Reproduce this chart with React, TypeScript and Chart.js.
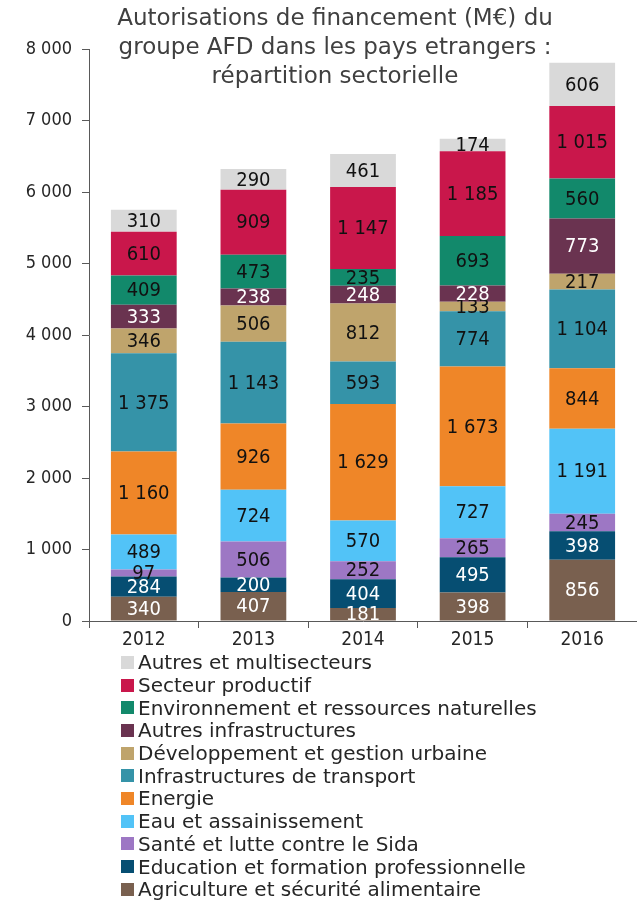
import React, { useEffect, useRef } from "react";
import { Chart, registerables } from "chart.js";

Chart.register(...registerables);

const years = ["2012", "2013", "2014", "2015", "2016"];

const agriculture = [340, 407, 181, 398, 856];
const education = [284, 200, 404, 495, 398];
const sante = [97, 506, 252, 265, 245];
const eau = [489, 724, 570, 727, 1191];
const energie = [1160, 926, 1629, 1673, 844];
const transport = [1375, 1143, 593, 774, 1104];
const urbain = [346, 506, 812, 133, 217];
const autresInfra = [333, 238, 248, 228, 773];
const environnement = [409, 473, 235, 693, 560];
const productif = [610, 909, 1147, 1185, 1015];
const autres = [310, 290, 461, 174, 606];

const seriesNames = [
  "Agriculture et sécurité alimentaire",
  "Education et formation professionnelle",
  "Santé et lutte contre le Sida",
  "Eau et assainissement",
  "Energie",
  "Infrastructures de transport",
  "Développement et gestion urbaine",
  "Autres infrastructures",
  "Environnement et ressources naturelles",
  "Secteur productif",
  "Autres et multisecteurs",
];
const seriesValues = [
  agriculture, education, sante, eau, energie, transport,
  urbain, autresInfra, environnement, productif, autres,
];
const seriesColors = [
  "#79604f", "#064e72", "#9d77c4", "#52c3f7", "#ef8628", "#3593a8",
  "#bfa46c", "#6a3350", "#12896b", "#c9174b", "#d9d9d9",
];
const labelColors = [
  "#ffffff", "#ffffff", "#111111", "#111111", "#111111", "#111111",
  "#111111", "#ffffff", "#111111", "#111111", "#111111",
];

const yTicks = [0, 1000, 2000, 3000, 4000, 5000, 6000, 7000, 8000];

const titleLines = [
  "Autorisations de financement (M€) du",
  "groupe AFD dans les pays etrangers :",
  "répartition sectorielle",
];

const FONT = "'DejaVu Sans', sans-serif";
const NUMFONT = "'DejaVu Sans Condensed', 'DejaVu Sans', sans-serif";

function fmt(v: number): string {
  return String(v).replace(/\B(?=(\d{3})+(?!\d))/g, " ");
}

const labelPlugin = {
  id: "segLabels",
  afterDatasetsDraw(chart: any) {
    const ctx = chart.ctx;
    ctx.save();
    ctx.font = `20px ${NUMFONT}`;
    ctx.textAlign = "center";
    ctx.textBaseline = "middle";
    chart.data.datasets.forEach((ds: any, i: number) => {
      const meta = chart.getDatasetMeta(i);
      meta.data.forEach((el: any, j: number) => {
        const v = ds.data[j];
        const y = (el.y + el.base) / 2;
        ctx.fillStyle = labelColors[i];
        ctx.fillText(fmt(v), el.x, y + 1);
      });
    });
    ctx.restore();
  },
};

export default function App() {
  const ref = useRef<HTMLCanvasElement | null>(null);

  useEffect(() => {
    if (!ref.current) return;
    const chart = new Chart(ref.current, {
      type: "bar",
      data: {
        labels: years,
        datasets: seriesNames.map((name, i) => ({
          label: name,
          data: seriesValues[i],
          backgroundColor: seriesColors[i],
          borderWidth: 0,
          categoryPercentage: 1,
          barPercentage: 0.6,
        })),
      },
      options: {
        responsive: false,
        animation: false,
        layout: { padding: { left: 0, top: 49, right: 0, bottom: 0 } },
        plugins: {
          legend: { display: false },
          title: { display: false },
          tooltip: { enabled: false },
        },
        scales: {
          x: {
            stacked: true,
            grid: {
              drawOnChartArea: false,
              drawTicks: true,
              tickLength: 7,
              color: "#595959",
              offset: true,
            },
            border: { display: true, color: "#595959", width: 1 },
            ticks: {
              color: "#262626",
              font: { family: NUMFONT, size: 19 },
              padding: 1,
              maxRotation: 0,
            },
            afterFit: (s: any) => {
              s.height = 30;
            },
          },
          y: {
            stacked: true,
            min: 0,
            max: 8000,
            afterBuildTicks: (s: any) => {
              s.ticks = yTicks.map((v) => ({ value: v }));
            },
            grid: {
              drawOnChartArea: false,
              drawTicks: true,
              tickLength: 7,
              color: "#595959",
            },
            border: { display: true, color: "#595959", width: 1 },
            ticks: {
              color: "#262626",
              font: { family: NUMFONT, size: 18 },
              padding: 10,
              callback: (v: any) => fmt(Number(v)),
            },
            afterFit: (s: any) => {
              s.width = 89;
            },
          },
        },
      },
      plugins: [labelPlugin],
    });
    return () => chart.destroy();
  }, []);

  const legendOrder = seriesNames.map((_, i) => i).reverse();

  return (
    <div style={{ position: "absolute", left: 0, top: 0, width: 637, height: 902, background: "#fff", fontFamily: FONT }}>
      <canvas ref={ref} width={637} height={651} style={{ position: "absolute", left: 0, top: 0 }} />
      <div
        style={{
          position: "absolute",
          left: 35,
          width: 600,
          top: 3,
          textAlign: "center",
          fontSize: 23,
          lineHeight: "29px",
          color: "#404040",
        }}
      >
        {titleLines.map((t, i) => (
          <div key={i}>{t}</div>
        ))}
      </div>
      <div style={{ position: "absolute", left: 121, top: 651 }}>
        {legendOrder.map((i) => (
          <div key={i} style={{ display: "flex", alignItems: "center", height: 22.7, fontSize: 20, color: "#262626", whiteSpace: "nowrap" }}>
            <span style={{ display: "inline-block", width: 13, height: 13, background: seriesColors[i], marginRight: 4, flexShrink: 0 }} />
            <span>{seriesNames[i]}</span>
          </div>
        ))}
      </div>
    </div>
  );
}
